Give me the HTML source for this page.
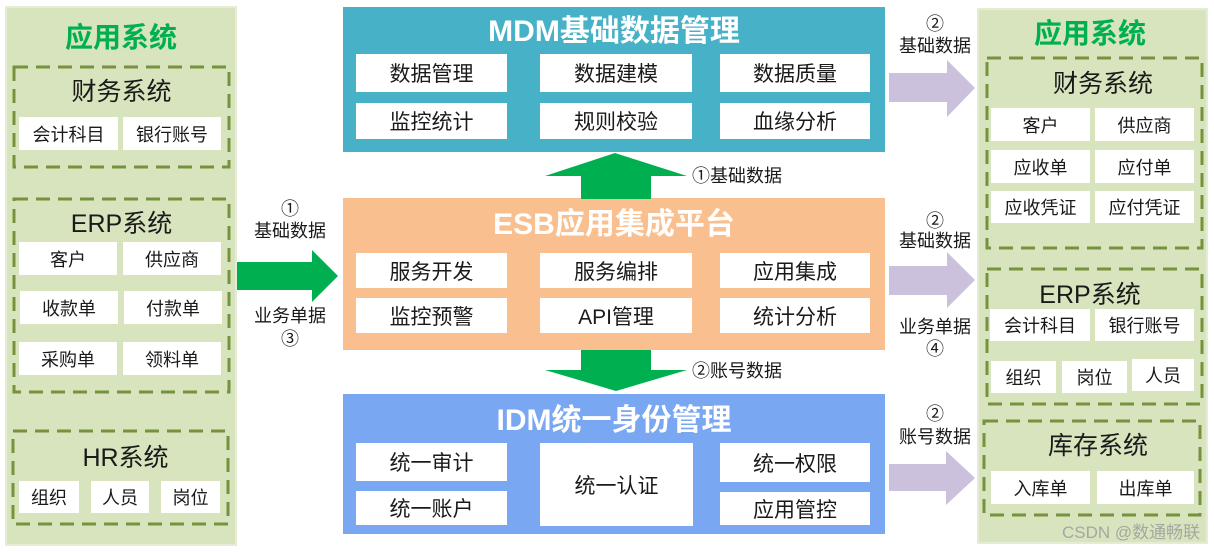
<!DOCTYPE html>
<html><head><meta charset="utf-8"><style>
html,body{margin:0;padding:0;background:#fff;}
body{width:1214px;height:552px;position:relative;overflow:hidden;font-family:"Liberation Sans","Noto Sans CJK SC",sans-serif;}
.a{position:absolute;box-sizing:border-box;}
.c{display:flex;align-items:center;justify-content:center;white-space:nowrap;}
.w{background:#fff;color:#1a1a1a;}
.s{font-size:18px;}
.m{font-size:21px;}
.t{font-size:25px;color:#1a1a1a;}
.g{font-size:28px;font-weight:bold;color:#00b050;}
.h{font-size:30px;font-weight:bold;color:#fff;}
.l{font-size:18px;color:#1a1a1a;}
.panel{background:#d7e4bd;border:2px solid #e4ecd4;}
svg{position:absolute;left:0;top:0;}
</style></head><body>

<!-- side panels -->
<div class="a panel" style="left:5px;top:6px;width:232px;height:540px;"></div>
<div class="a panel" style="left:977px;top:8px;width:231px;height:536px;"></div>

<!-- center blocks -->
<div class="a" style="left:343px;top:7px;width:542px;height:145px;background:#47b1c8;"></div>
<div class="a" style="left:343px;top:198px;width:542px;height:152px;background:#f9bf8f;"></div>
<div class="a" style="left:343px;top:394px;width:542px;height:140px;background:#7aa7f1;"></div>

<svg width="1214" height="552" viewBox="0 0 1214 552">
  <g fill="none" stroke="#76923c" stroke-width="3" stroke-dasharray="14 8">
    <rect x="14" y="67" width="215" height="100"/>
    <rect x="14" y="199" width="215" height="193"/>
    <rect x="13" y="431" width="215" height="93"/>
    <rect x="987" y="58" width="215" height="190"/>
    <rect x="987" y="269" width="215" height="135"/>
    <rect x="984" y="421" width="216" height="94"/>
  </g>
  <!-- green arrows -->
  <polygon fill="#00b050" points="237,262 312,262 312,250 338,276 312,302 312,290 237,290"/>
  <polygon fill="#00b050" points="581,199 581,176 545,176 615,153 687,176 651,176 651,199"/>
  <polygon fill="#00b050" points="581,350 581,370 545,370 616,391 687,370 651,370 651,350"/>
  <!-- purple arrows -->
  <polygon fill="#ccc1dd" points="889,73 947,73 947,60 975,88 947,117 947,102 889,102"/>
  <polygon fill="#ccc1dd" points="889,266 947,266 947,252 975,280 947,308 947,295 889,295"/>
  <polygon fill="#ccc1dd" points="889,464 946,464 946,451 975,478 946,505 946,491 889,491"/>
</svg>

<!-- left panel content -->
<div class="a c g" style="left:5px;top:19px;width:232px;height:34px;">应用系统</div>
<div class="a c t" style="left:14px;top:75px;width:215px;height:30px;">财务系统</div>
<div class="a c w s" style="left:19px;top:117px;width:99px;height:33px;">会计科目</div>
<div class="a c w s" style="left:123px;top:117px;width:98px;height:33px;">银行账号</div>

<div class="a c t" style="left:14px;top:207px;width:215px;height:30px;">ERP系统</div>
<div class="a c w s" style="left:19px;top:242px;width:98px;height:33px;">客户</div>
<div class="a c w s" style="left:123px;top:242px;width:98px;height:33px;">供应商</div>
<div class="a c w s" style="left:20px;top:291px;width:98px;height:33px;">收款单</div>
<div class="a c w s" style="left:124px;top:291px;width:98px;height:33px;">付款单</div>
<div class="a c w s" style="left:19px;top:342px;width:98px;height:33px;">采购单</div>
<div class="a c w s" style="left:123px;top:342px;width:98px;height:33px;">领料单</div>

<div class="a c t" style="left:13px;top:441px;width:225px;height:30px;">HR系统</div>
<div class="a c w s" style="left:19px;top:481px;width:60px;height:32px;">组织</div>
<div class="a c w s" style="left:91px;top:481px;width:58px;height:32px;">人员</div>
<div class="a c w s" style="left:161px;top:481px;width:59px;height:32px;">岗位</div>

<!-- left arrow labels -->
<div class="a c l" style="left:250px;top:197px;width:80px;height:22px;">①</div>
<div class="a c l" style="left:250px;top:219px;width:80px;height:22px;">基础数据</div>
<div class="a c l" style="left:250px;top:304px;width:80px;height:22px;">业务单据</div>
<div class="a c l" style="left:250px;top:327px;width:80px;height:22px;">③</div>

<!-- MDM -->
<div class="a c h" style="left:343px;top:10px;width:542px;height:36px;">MDM基础数据管理</div>
<div class="a c w m" style="left:356px;top:54px;width:151px;height:38px;">数据管理</div>
<div class="a c w m" style="left:540px;top:54px;width:152px;height:38px;">数据建模</div>
<div class="a c w m" style="left:720px;top:54px;width:150px;height:38px;">数据质量</div>
<div class="a c w m" style="left:356px;top:103px;width:151px;height:36px;">监控统计</div>
<div class="a c w m" style="left:540px;top:103px;width:152px;height:36px;">规则校验</div>
<div class="a c w m" style="left:720px;top:103px;width:150px;height:36px;">血缘分析</div>

<div class="a l" style="left:692px;top:165px;height:22px;white-space:nowrap;line-height:22px;">①基础数据</div>

<!-- ESB -->
<div class="a c h" style="left:343px;top:203px;width:542px;height:36px;">ESB应用集成平台</div>
<div class="a c w m" style="left:356px;top:253px;width:151px;height:35px;">服务开发</div>
<div class="a c w m" style="left:540px;top:253px;width:152px;height:35px;">服务编排</div>
<div class="a c w m" style="left:720px;top:253px;width:150px;height:35px;">应用集成</div>
<div class="a c w m" style="left:356px;top:298px;width:151px;height:35px;">监控预警</div>
<div class="a c w m" style="left:540px;top:298px;width:152px;height:35px;">API管理</div>
<div class="a c w m" style="left:720px;top:298px;width:150px;height:35px;">统计分析</div>

<div class="a l" style="left:692px;top:360px;height:22px;white-space:nowrap;line-height:22px;">②账号数据</div>

<!-- IDM -->
<div class="a c h" style="left:343px;top:399px;width:542px;height:36px;">IDM统一身份管理</div>
<div class="a c w m" style="left:356px;top:443px;width:151px;height:38px;">统一审计</div>
<div class="a c w m" style="left:356px;top:491px;width:151px;height:34px;">统一账户</div>
<div class="a c w m" style="left:540px;top:443px;width:153px;height:83px;">统一认证</div>
<div class="a c w m" style="left:720px;top:443px;width:150px;height:39px;">统一权限</div>
<div class="a c w m" style="left:720px;top:492px;width:150px;height:33px;">应用管控</div>

<!-- right arrow labels -->
<div class="a c l" style="left:895px;top:12px;width:80px;height:22px;">②</div>
<div class="a c l" style="left:895px;top:34px;width:80px;height:22px;">基础数据</div>
<div class="a c l" style="left:895px;top:209px;width:80px;height:22px;">②</div>
<div class="a c l" style="left:895px;top:229px;width:80px;height:22px;">基础数据</div>
<div class="a c l" style="left:895px;top:315px;width:80px;height:22px;">业务单据</div>
<div class="a c l" style="left:895px;top:337px;width:80px;height:22px;">④</div>
<div class="a c l" style="left:895px;top:402px;width:80px;height:22px;">②</div>
<div class="a c l" style="left:895px;top:425px;width:80px;height:22px;">账号数据</div>

<!-- right panel content -->
<div class="a c g" style="left:977px;top:15px;width:226px;height:34px;">应用系统</div>
<div class="a c t" style="left:1000px;top:67px;width:206px;height:30px;">财务系统</div>
<div class="a c w s" style="left:991px;top:108px;width:99px;height:33px;">客户</div>
<div class="a c w s" style="left:1095px;top:108px;width:99px;height:33px;">供应商</div>
<div class="a c w s" style="left:991px;top:150px;width:99px;height:33px;">应收单</div>
<div class="a c w s" style="left:1095px;top:150px;width:99px;height:33px;">应付单</div>
<div class="a c w s" style="left:991px;top:191px;width:99px;height:32px;">应收凭证</div>
<div class="a c w s" style="left:1095px;top:191px;width:99px;height:32px;">应付凭证</div>

<div class="a c t" style="left:987px;top:278px;width:206px;height:30px;">ERP系统</div>
<div class="a c w s" style="left:990px;top:309px;width:100px;height:32px;">会计科目</div>
<div class="a c w s" style="left:1095px;top:309px;width:99px;height:32px;">银行账号</div>
<div class="a c w s" style="left:991px;top:361px;width:65px;height:32px;">组织</div>
<div class="a c w s" style="left:1062px;top:361px;width:65px;height:32px;">岗位</div>
<div class="a c w s" style="left:1132px;top:359px;width:62px;height:32px;">人员</div>

<div class="a c t" style="left:995px;top:429px;width:206px;height:30px;">库存系统</div>
<div class="a c w s" style="left:991px;top:471px;width:99px;height:33px;">入库单</div>
<div class="a c w s" style="left:1097px;top:471px;width:97px;height:33px;">出库单</div>

<div class="a" style="left:1062px;top:522px;font-size:17px;color:#a3a8a0;white-space:nowrap;line-height:22px;">CSDN @数通畅联</div>

</body></html>
